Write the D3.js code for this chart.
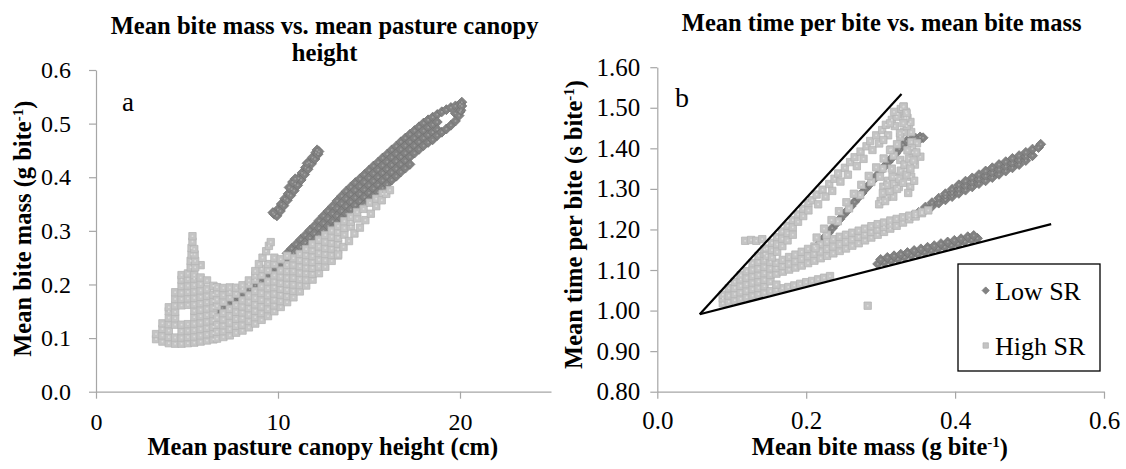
<!DOCTYPE html>
<html>
<head>
<meta charset="utf-8">
<script src="https://cdn.jsdelivr.net/npm/d3@7"></script>
<style>
  html, body { margin: 0; padding: 0; background: #fff; }
  svg { display: block; }
  svg text { font-family: "Liberation Serif", "Times New Roman", Times, serif !important; fill: #000; }
</style>
</head>
<body>
<svg id="chart" width="1126" height="469"></svg>
<script>
// ---------- axis ticks ----------
const heightTicks = [0, 10, 20];
const massTicksA = [0, 0.1, 0.2, 0.3, 0.4, 0.5, 0.6];
const massTicksB = [0, 0.2, 0.4, 0.6];
const timeTicks = [0.8, 0.9, 1.0, 1.1, 1.2, 1.3, 1.4, 1.5, 1.6];
const seriesNames = ["Low SR", "High SR"];

// ---------- panel a: bite mass (g) vs canopy height (cm) ----------
const lowSR_massVsHeight = [
  [9.80,.331],[9.99,.340],[10.18,.350],[10.37,.360],[10.56,.369],[10.75,.378],[10.94,.388],[11.13,.398],[11.32,.408],[11.51,.418],[11.70,.428],[11.89,.437],[12.08,.446],
  [9.94,.328],[10.13,.337],[10.32,.347],[10.51,.357],[10.70,.366],[10.89,.375],[11.08,.385],[11.27,.395],[11.46,.405],[11.65,.415],[11.84,.425],[12.03,.434],[12.20,.443],
  [9.72,.334],[10.61,.381],[10.80,.391],[10.95,.397],[11.6,.426],[12.15,.451],[12.25,.448],
  [6.65,.149],[6.95,.156],[7.25,.163],[7.55,.170],[7.85,.177],[8.15,.184],[8.45,.191],[8.75,.198],[9.05,.205],[9.35,.213],[9.65,.222],[9.95,.231],[10.25,.240],[10.55,.249],[10.85,.258],
  [10.5,.258],[10.75,.267],[11,.275],[11.25,.284],[11.5,.292],[11.75,.301],[12,.309],[12.25,.319],[12.5,.328],[12.75,.337],[13,.346],[13.25,.356],[13.5,.365],[13.75,.374],[14,.382],[14.25,.390],[14.5,.397],[14.75,.405],[15,.413],[15.25,.421],[15.5,.428],[15.75,.436],[16,.443],[16.25,.451],[16.5,.458],[16.75,.466],[17,.473],[17.25,.480],[17.5,.487],[17.75,.494],[18,.501],[18.25,.507],[18.5,.512],[18.75,.517],[19,.522],[19.25,.526],[19.5,.530],[19.75,.533],[20,.536],[20.1,.540],
  [10.75,.253],[11,.261],[11.25,.270],[11.5,.278],[11.75,.287],[12,.295],[12.25,.305],[12.5,.314],[12.75,.323],[13,.332],[13.25,.342],[13.5,.351],[13.75,.360],[14,.368],[14.25,.376],[14.5,.383],[14.75,.391],[15,.399],[15.25,.407],[15.5,.414],[15.75,.422],[16,.429],[16.25,.437],[16.5,.444],[16.75,.452],[17,.459],[17.25,.466],[17.5,.473],[17.75,.480],[18,.487],[18.25,.493],[18.5,.498],[18.75,.503],[19.75,.519],[20,.522],
  [11.5,.264],[11.75,.273],[12,.281],[12.25,.291],[12.5,.300],[12.75,.309],[13,.318],[13.25,.328],[13.5,.337],[13.75,.346],[14,.354],[14.25,.362],[14.5,.369],[14.75,.377],[15,.385],[15.25,.393],[15.5,.400],[15.75,.408],[16,.415],[16.25,.423],[16.5,.430],[16.75,.438],[17,.445],[17.25,.452],[17.5,.459],[17.75,.466],[18,.473],[18.25,.479],[18.5,.484],[18.75,.489],
  [13,.304],[13.25,.314],[13.5,.323],[13.75,.332],[14,.340],[14.25,.348],[14.5,.355],[14.75,.363],[15,.371],[15.25,.379],[15.5,.386],[15.75,.394],[16,.401],[16.25,.409],[16.5,.416],[16.75,.424],[17,.431],[17.25,.438],[17.5,.445],[17.75,.452],[18,.459],[18.25,.465],[18.5,.470],
  [14.5,.341],[14.75,.349],[15,.357],[15.25,.365],[15.5,.372],[15.75,.380],[16,.387],[16.25,.395],[16.5,.402],[16.75,.410],[17,.417],[17.25,.424],
  [18.75,.478],[19,.484],[19.25,.490],[19.5,.497],[19.75,.505],[19.95,.515],[20.05,.525],[20.1,.533]
];

const highSR_massVsHeight = [
  [3.3,.098],[3.3,.1075],
  [3.65,.0935],[3.65,.105],[3.65,.117],[3.65,.1275],
  [4.0,.0905],[4.0,.102],[4.0,.114],[4.0,.126],[4.0,.138],[4.0,.15],[4.0,.1575],
  [4.35,.0895],[4.35,.101],[4.35,.125],[4.35,.137],[4.35,.149],[4.35,.161],[4.35,.173],[4.35,.1855],
  [4.7,.0895],[4.7,.101],[4.7,.113],[4.7,.125],[4.7,.161],[4.7,.173],[4.7,.185],[4.7,.197],[4.7,.209],[4.7,.2175],
  [5.05,.0905],[5.05,.102],[5.05,.114],[5.05,.126],[5.05,.162],[5.05,.174],[5.05,.186],[5.05,.198],[5.05,.21],[5.05,.2205],
  [5.4,.0915],[5.4,.103],[5.4,.115],[5.4,.127],[5.4,.139],[5.4,.151],[5.4,.163],[5.4,.175],[5.4,.187],[5.4,.199],[5.4,.211],[5.4,.2175],
  [5.75,.0935],[5.75,.105],[5.75,.117],[5.75,.129],[5.75,.141],[5.75,.153],[5.75,.165],[5.75,.177],[5.75,.189],[5.75,.201],[5.75,.213],[5.75,.236],
  [6.1,.0955],[6.1,.107],[6.1,.119],[6.1,.131],[6.1,.143],[6.1,.155],[6.1,.167],[6.1,.179],[6.1,.191],[6.1,.2075],
  [6.45,.0975],[6.45,.109],[6.45,.121],[6.45,.133],[6.45,.145],[6.45,.157],[6.45,.169],[6.45,.181],[6.45,.1975],
  [5.2,.232],[5.2,.244],[5.25,.256],[5.25,.268],[5.3,.28],[5.3,.29],[5.45,.232],[5.45,.244],[5.42,.256],[5.4,.266],
  [6.65,.099],[6.65,.112],[6.65,.125],[6.65,.1385],
  [7.0,.102],[7.0,.113],[7.0,.124],[7.0,.135],[7.0,.1465],
  [7.35,.105],[7.35,.117],[7.35,.129],[7.35,.142],[7.35,.1545],
  [7.7,.110],[7.7,.123],[7.7,.136],[7.7,.149],[7.7,.1615],
  [8.05,.114],[8.05,.125],[8.05,.137],[8.05,.148],[8.05,.159],[8.05,.1705],
  [8.4,.120],[8.4,.132],[8.4,.144],[8.4,.156],[8.4,.168],[8.4,.1795],
  [8.75,.127],[8.75,.139],[8.75,.151],[8.75,.163],[8.75,.175],[8.75,.1875],
  [9.1,.134],[9.1,.1465],[9.1,.159],[9.1,.1715],[9.1,.184],[9.1,.1965],
  [9.45,.141],[9.45,.154],[9.45,.167],[9.45,.180],[9.45,.193],[9.45,.2055],
  [9.8,.150],[9.8,.161],[9.8,.172],[9.8,.183],[9.8,.195],[9.8,.206],[9.8,.217],
  [10.15,.158],[10.15,.169],[10.15,.181],[10.15,.192],[10.15,.203],[10.15,.215],[10.15,.226],
  [10.5,.167],[10.5,.1785],[10.5,.190],[10.5,.2015],[10.5,.213],[10.5,.225],[10.5,.2365],
  [10.85,.176],[10.85,.188],[10.85,.200],[10.85,.2125],[10.85,.225],[10.85,.237],[10.85,.249],
  [11.2,.187],[11.2,.199],[11.2,.210],[11.2,.222],[11.2,.234],[11.2,.2455],[11.2,.257],
  [11.55,.198],[11.55,.209],[11.55,.221],[11.55,.232],[11.55,.243],[11.55,.255],[11.55,.266],
  [11.9,.209],[11.9,.220],[11.9,.231],[11.9,.242],[11.9,.253],[11.9,.264],[11.9,.275],
  [12.25,.221],[12.25,.2335],[12.25,.246],[12.25,.2585],[12.25,.271],[12.25,.2835],
  [12.6,.233],[12.6,.245],[12.6,.257],[12.6,.268],[12.6,.280],[12.6,.292],
  [12.95,.244],[12.95,.255],[12.95,.267],[12.95,.278],[12.95,.289],[12.95,.3006],
  [13.3,.254],[13.3,.265],[13.3,.276],[13.3,.287],[13.3,.298],[13.3,.309],
  [13.65,.293],[13.65,.3055],[13.65,.318],
  [14.0,.308],[14.0,.317],[14.0,.326],
  [14.35,.323],[14.35,.335],
  [14.7,.341],[15.05,.3525],[15.4,.360],[15.75,.369],
  [6.65,.160],[6.65,.172],[6.65,.184],[6.65,.195],
  [7.0,.1675],[7.0,.18],[7.0,.1935],
  [7.35,.176],[7.35,.186],[7.35,.1945],
  [7.7,.1825],[7.7,.194],
  [8.05,.1915],[8.05,.1985],
  [8.4,.2005],[8.4,.2075],
  [8.75,.2085],[8.75,.2165],
  [9.1,.2175],[9.1,.229],
  [9.45,.2265],[9.45,.238],
  [9.8,.238],[9.8,.25],
  [10.15,.247],[10.5,.2535],
  [8.75,.225],[8.95,.238],[9.15,.250],[9.35,.262],[9.5,.272],[9.6,.279],
  [13.3,.256],[13.6,.270],[13.9,.281],[14.2,.295],[14.5,.306],[14.8,.320],[15.1,.332],[15.4,.346],[15.7,.357],[15.95,.369],[16.15,.376]
];

// ---------- panel b: time per bite (s) vs bite mass (g) ----------
const lowSR_timeVsMass = [
  [.342,1.2325],[.351,1.242],[.36,1.248],[.36,1.255],[.369,1.257],[.369,1.266],[.378,1.265],[.378,1.277],
  [.387,1.273],[.387,1.2805],[.387,1.288],[.396,1.281],[.396,1.29],[.396,1.299],[.405,1.289],[.405,1.2995],[.405,1.31],
  [.414,1.297],[.414,1.308],[.414,1.319],[.423,1.305],[.423,1.316],[.423,1.327],[.432,1.313],[.432,1.324],[.432,1.335],
  [.441,1.32],[.441,1.332],[.441,1.344],[.45,1.328],[.45,1.34],[.45,1.352],[.459,1.336],[.459,1.348],[.459,1.36],
  [.468,1.344],[.468,1.3555],[.468,1.367],[.477,1.352],[.477,1.3635],[.477,1.375],[.486,1.36],[.486,1.371],[.486,1.382],
  [.495,1.37],[.495,1.38],[.495,1.39],[.504,1.382],[.504,1.398],[.512,1.402],[.515,1.41],
  [.296,1.115],[.305,1.119],[.314,1.123],[.323,1.127],[.332,1.132],[.341,1.136],[.35,1.140],[.359,1.144],[.368,1.148],[.377,1.153],[.386,1.157],[.395,1.161],[.404,1.165],[.413,1.170],[.422,1.174],[.43,1.178],
  [.30,1.126],[.309,1.131],[.318,1.135],[.327,1.139],[.336,1.143],[.345,1.148],[.354,1.152],[.363,1.156],[.372,1.16],[.381,1.165],[.39,1.169],[.399,1.173],[.408,1.177],[.417,1.182],[.425,1.185],
  [.205,1.138],[.21,1.149],[.215,1.16],[.22,1.171],[.225,1.181],[.23,1.192],[.235,1.203],[.24,1.214],[.245,1.225],[.25,1.236],[.255,1.246],[.26,1.257],[.265,1.268],[.27,1.279],[.275,1.29],[.28,1.301],[.285,1.311],[.29,1.322],[.295,1.333],[.30,1.344],[.305,1.355],[.31,1.366],[.315,1.376],[.32,1.387],[.325,1.398],[.33,1.409],[.335,1.418],[.341,1.422],[.347,1.425],[.353,1.428],[.357,1.426],[.35,1.418],[.344,1.413]
];

const highSR_timeVsMass = [
  [.088,1.018],[.088,1.03],[.088,1.039],
  [.096,1.022],[.096,1.037],[.096,1.055],
  [.104,1.0255],[.104,1.041],[.104,1.056],[.104,1.071],
  [.112,1.029],[.112,1.045],[.112,1.061],[.112,1.077],[.112,1.087],
  [.12,1.033],[.12,1.049],[.12,1.065],[.12,1.081],[.12,1.097],
  [.128,1.037],[.128,1.053],[.128,1.069],[.128,1.085],[.128,1.101],[.128,1.117],
  [.136,1.0405],[.136,1.056],[.136,1.072],[.136,1.088],[.136,1.104],[.136,1.12],[.136,1.135],
  [.144,1.044],[.144,1.06],[.144,1.076],[.144,1.092],[.144,1.108],[.144,1.124],[.144,1.14],[.144,1.151],
  [.152,1.048],[.152,1.072],[.152,1.088],[.152,1.104],[.152,1.12],
  [.16,1.051],[.168,1.055],[.176,1.058],[.184,1.062],[.192,1.066],[.2,1.07],[.208,1.073],[.216,1.077],[.224,1.081],[.232,1.085],[.16,1.064],
  [.16,1.091],[.16,1.105],[.16,1.118],
  [.1685,1.096],[.1685,1.110],[.1685,1.125],
  [.177,1.101],[.177,1.116],[.177,1.132],
  [.1855,1.106],[.1855,1.122],[.1855,1.138],
  [.194,1.111],[.194,1.128],[.194,1.145],
  [.2025,1.117],[.2025,1.134],[.2025,1.152],
  [.211,1.123],[.211,1.140],[.211,1.158],
  [.2195,1.129],[.2195,1.146],[.2195,1.164],
  [.228,1.135],[.228,1.152],[.228,1.170],
  [.2365,1.141],[.2365,1.158],[.2365,1.176],
  [.245,1.147],[.245,1.164],[.245,1.182],
  [.2535,1.153],[.2535,1.170],[.2535,1.187],
  [.262,1.160],[.262,1.176],[.262,1.192],
  [.2705,1.166],[.2705,1.182],[.2705,1.197],
  [.279,1.173],[.279,1.188],[.279,1.202],
  [.2875,1.180],[.2875,1.194],[.2875,1.208],
  [.296,1.187],[.296,1.200],[.296,1.213],
  [.3045,1.194],[.3045,1.206],[.3045,1.217],
  [.313,1.202],[.313,1.212],[.313,1.222],
  [.3215,1.209],[.3215,1.226],
  [.33,1.217],[.33,1.23],
  [.3385,1.225],[.3385,1.234],
  [.347,1.232],[.347,1.2385],
  [.3555,1.24],[.3555,1.243],
  [.364,1.247],
  [.147,1.153],[.147,1.135],[.154,1.167],[.154,1.149],[.154,1.131],[.161,1.181],[.161,1.163],[.161,1.145],
  [.168,1.195],[.168,1.177],[.168,1.159],[.175,1.209],[.175,1.191],[.175,1.173],[.182,1.223],[.182,1.205],[.182,1.187],
  [.189,1.237],[.189,1.219],[.196,1.251],[.196,1.233],[.203,1.265],[.203,1.247],
  [.118,1.172],[.126,1.174],[.133,1.172],[.141,1.176],
  [.208,1.272],[.214,1.286],[.216,1.262],[.222,1.298],[.226,1.281],[.231,1.312],[.235,1.295],[.238,1.325],[.243,1.338],[.246,1.318],
  [.252,1.352],[.256,1.335],[.259,1.366],[.265,1.378],[.268,1.356],[.273,1.392],[.277,1.374],[.281,1.405],[.286,1.418],[.289,1.396],
  [.294,1.432],[.298,1.412],[.302,1.445],[.307,1.458],[.31,1.432],[.315,1.47],[.319,1.455],[.323,1.485],[.327,1.497],[.331,1.503],[.334,1.49],[.336,1.475],
  [.2125,1.154],[.2275,1.187],[.2425,1.22],[.2575,1.252],[.2725,1.285],[.2875,1.317],[.3025,1.35],[.3175,1.382],
  [.214,1.18],[.224,1.202],[.234,1.223],[.244,1.245],[.254,1.267],[.264,1.288],[.274,1.31],[.284,1.332],[.294,1.353],[.304,1.375],[.314,1.397],
  [.2991,1.3301],[.3036,1.3054],[.3036,1.4206],[.3126,1.3959],[.317,1.2808],[.3245,1.3046],[.3264,1.3713],[.3264,1.4287],
  [.3331,1.3466],[.3398,1.3054],[.3415,1.4154],[.3488,1.4124],[.3533,1.3794],
  [.31,1.32],[.315,1.35],[.32,1.33],[.308,1.28],[.30,1.27],[.343,1.39],[.346,1.36],[.341,1.33],[.345,1.32],[.337,1.29],[.322,1.41],[.331,1.44],[.338,1.46],
  [.298,1.262],[.306,1.27],[.303,1.29],[.312,1.295],[.309,1.31],[.318,1.312],[.322,1.3],[.316,1.33],[.325,1.325],[.33,1.315],[.327,1.345],[.335,1.335],
  [.332,1.36],[.34,1.35],[.338,1.375],[.344,1.37],[.342,1.4],[.348,1.39],[.336,1.395],[.341,1.44],[.335,1.455],[.34,1.465],[.333,1.475],
  [.3215,1.478],[.3305,1.5027],[.3349,1.4863],[.3305,1.4616],[.3126,1.4616],[.326,1.437],[.318,1.49],
  [.2826,1.012]
];

// boundary lines drawn over panel b
const upperBound = [[0.057, 0.991], [0.328, 1.534]];
const lowerBound = [[0.057, 0.991], [0.529, 1.213]];

// ---------- drawing ----------
const svg = d3.select("#chart");
const SERIF = "Liberation Serif, Times New Roman, Times, serif";
const AXIS = "#a6a6a6";
const LOW = { fill: "#828282", stroke: "#747474", dot: "#a2a2a2" };
const HIGH = { fill: "#c4c4c4", stroke: "#b5b5b5", dot: "#dcdcdc" };

function diamondPath(r) { return `M0,${-r}L${r},0L0,${r}L${-r},0Z`; }
function squarePath(h) { return `M${-h},${-h}H${h}V${h}H${-h}Z`; }

function drawPoints(g, data, x, y, kind) {
  const style = kind === "low" ? LOW : HIGH;
  const shape = kind === "low" ? diamondPath(5) : squarePath(3.7);
  const layer = g.append("g");
  layer.selectAll("path").data(data).join("path")
    .attr("d", shape)
    .attr("transform", d => `translate(${x(d[0])},${y(d[1])})`)
    .attr("fill", style.fill)
    .attr("stroke", style.stroke)
    .attr("stroke-width", 0.8);
  layer.selectAll("rect").data(data).join("rect")
    .attr("x", d => x(d[0]) - 0.8)
    .attr("y", d => y(d[1]) - 0.8)
    .attr("width", 1.6).attr("height", 1.6)
    .attr("fill", style.dot);
}

function styleAxis(g, fontSize) {
  g.attr("font-family", SERIF);
  g.select(".domain").attr("stroke", AXIS).attr("stroke-width", 1.2);
  g.selectAll(".tick line").attr("stroke", AXIS).attr("stroke-width", 1.2);
  g.selectAll(".tick text").attr("font-family", SERIF)
    .attr("font-size", fontSize).attr("fill", "#000");
}

function addText(g, x, y, str, size, bold) {
  return g.append("text").attr("x", x).attr("y", y)
    .attr("font-family", SERIF).attr("font-size", size)
    .attr("font-weight", bold ? "bold" : "normal").text(str);
}

function axisTitle(g, x, y, parts, rotate) {
  const t = g.append("text")
    .attr("transform", `translate(${x},${y})` + (rotate ? " rotate(-90)" : ""))
    .attr("text-anchor", "middle").attr("font-family", SERIF)
    .attr("font-weight", "bold").attr("font-size", 24.5);
  parts.forEach(p => {
    const s = t.append("tspan").text(p.text);
    if (p.sup) s.attr("font-size", 15).attr("dy", "-0.55em");
    if (p.after) s.attr("dy", "0.37em");
  });
}

// ----- panel a -----
const xA = d3.scaleLinear().domain([0, 25]).range([96, 551]);
const yA = d3.scaleLinear().domain([0, 0.6]).range([391.7, 70]);
const gA = svg.append("g");

gA.append("g").attr("transform", "translate(0,391.7)")
  .call(d3.axisBottom(xA).tickValues(heightTicks).tickFormat(d3.format("d")).tickSize(7).tickSizeOuter(0).tickPadding(14))
  .call(g => styleAxis(g, 24));
gA.append("g").attr("transform", "translate(96,0)")
  .call(d3.axisLeft(yA).tickValues(massTicksA).tickFormat(d3.format(".1f")).tickSize(7).tickSizeOuter(0).tickPadding(18))
  .call(g => styleAxis(g, 24));

drawPoints(gA, lowSR_massVsHeight, xA, yA, "low");
drawPoints(gA, highSR_massVsHeight, xA, yA, "high");

addText(gA, 324.6, 34, "Mean bite mass vs. mean pasture canopy", 24.6, true).attr("text-anchor", "middle");
addText(gA, 324.6, 61, "height", 24.6, true).attr("text-anchor", "middle");
addText(gA, 122, 111, "a", 27, false);
axisTitle(gA, 322.8, 455, [{ text: "Mean pasture canopy height (cm)" }], false);
axisTitle(gA, 31, 228.7, [{ text: "Mean bite mass (g bite" }, { text: "-1", sup: true }, { text: ")", after: true }], true);

// ----- panel b -----
const xB = d3.scaleLinear().domain([0, 0.6]).range([657.3, 1104]);
const yB = d3.scaleLinear().domain([0.8, 1.6]).range([391.7, 67.2]);
const gB = svg.append("g");

gB.append("g").attr("transform", "translate(0,391.7)")
  .call(d3.axisBottom(xB).tickValues(massTicksB).tickFormat(d3.format(".1f")).tickSize(7).tickSizeOuter(0).tickPadding(13))
  .call(g => styleAxis(g, 25));
gB.append("g").attr("transform", "translate(657.3,0)")
  .call(d3.axisLeft(yB).tickValues(timeTicks).tickFormat(d3.format(".2f")).tickSize(7).tickSizeOuter(0).tickPadding(10))
  .call(g => styleAxis(g, 25));

drawPoints(gB, lowSR_timeVsMass, xB, yB, "low");
drawPoints(gB, highSR_timeVsMass, xB, yB, "high");

const boundLine = d3.line().x(d => xB(d[0])).y(d => yB(d[1]));
[upperBound, lowerBound].forEach(b => {
  gB.append("path").attr("d", boundLine(b)).attr("fill", "none")
    .attr("stroke", "#000").attr("stroke-width", 2.2);
});

addText(gB, 881.7, 31, "Mean time per bite vs. mean bite mass", 24.5, true).attr("text-anchor", "middle");
addText(gB, 675, 107, "b", 28, false);
axisTitle(gB, 879.9, 455, [{ text: "Mean bite mass (g bite" }, { text: "-1", sup: true }, { text: ")", after: true }], false);
axisTitle(gB, 582, 224.5, [{ text: "Mean time per bite (s bite" }, { text: "-1", sup: true }, { text: ")", after: true }], true);

// legend
const lg = gB.append("g");
lg.append("rect").attr("x", 958).attr("y", 264).attr("width", 142).attr("height", 107)
  .attr("fill", "#fff").attr("stroke", "#000").attr("stroke-width", 1.3);
seriesNames.forEach((name, i) => {
  const cy = 290.5 + i * 55;
  const style = i === 0 ? LOW : HIGH;
  lg.append("path").attr("d", i === 0 ? diamondPath(3.6) : squarePath(2.7))
    .attr("transform", `translate(985.7,${cy})`)
    .attr("fill", style.fill).attr("stroke", style.stroke).attr("stroke-width", 0.8);
  addText(lg, 995, cy + 9, name, 26, false);
});
</script>
</body>
</html>
